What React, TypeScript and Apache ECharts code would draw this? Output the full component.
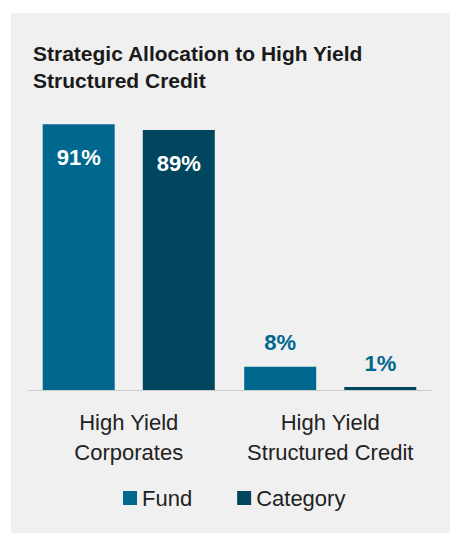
import React, { useEffect, useRef } from "react";
import * as echarts from "echarts";

const titleText = "Strategic Allocation to High Yield\nStructured Credit";
const categories = ["High Yield\nCorporates", "High Yield\nStructured Credit"];
const seriesNames = ["Fund", "Category"];
const fundValues = [91, 8];
const categoryValues = [89, 1];

const FUND_COLOR = "#00688f";
const CAT_COLOR = "#00465f";
const FONT = "'Liberation Sans', Arial, sans-serif";

function makeData(values: number[], color: string) {
  return values.map((v) => ({
    value: v,
    label:
      v > 50
        ? { show: true, position: "insideTop", distance: 22, color: "#ffffff" }
        : { show: true, position: "top", distance: 13, color: FUND_COLOR },
  }));
}

export default function App() {
  const ref = useRef<HTMLDivElement>(null);
  useEffect(() => {
    document.body.style.margin = "0";
    const chart = echarts.init(ref.current!, undefined, { renderer: "svg" });
    const labelStyle = {
      formatter: "{c}%",
      fontFamily: FONT,
      fontWeight: "bold",
      fontSize: 22,
      lineHeight: 22,
    };
    chart.setOption({
      animation: false,
      backgroundColor: "#ffffff",
      graphic: [
        {
          type: "rect",
          z: -10,
          silent: true,
          shape: { x: 11, y: 13, width: 439, height: 520 },
          style: { fill: "#f0f0f0" },
        },
      ],
      title: {
        text: titleText,
        left: 33,
        top: 40,
        padding: 0,
        textStyle: {
          fontFamily: FONT,
          fontWeight: "bold",
          fontSize: 21,
          lineHeight: 27,
          color: "#1a1a1a",
        },
      },
      legend: {
        data: seriesNames,
        left: 123,
        top: 487,
        padding: 0,
        itemWidth: 14,
        itemHeight: 14,
        itemGap: 45,
        icon: "rect",
        textStyle: { fontFamily: FONT, fontSize: 22, color: "#222222" },
      },
      grid: { left: 28, right: 19, top: 98, bottom: 143 },
      xAxis: {
        type: "category",
        data: categories,
        axisLine: { lineStyle: { color: "#cccccc", width: 1 } },
        axisTick: { show: false },
        axisLabel: {
          interval: 0,
          fontFamily: FONT,
          fontSize: 22,
          lineHeight: 30,
          color: "#222222",
          margin: 17,
        },
      },
      yAxis: {
        type: "value",
        min: 0,
        max: 100,
        show: false,
        splitLine: { show: false },
      },
      series: [
        {
          name: seriesNames[0],
          type: "bar",
          barWidth: 72,
          barGap: "39%",
          itemStyle: { color: FUND_COLOR },
          label: labelStyle,
          data: makeData(fundValues, FUND_COLOR),
        },
        {
          name: seriesNames[1],
          type: "bar",
          barWidth: 72,
          barGap: "39%",
          itemStyle: { color: CAT_COLOR },
          label: labelStyle,
          data: makeData(categoryValues, CAT_COLOR),
        },
      ],
    });
    return () => chart.dispose();
  }, []);
  return <div ref={ref} style={{ width: 450, height: 533 }} />;
}
